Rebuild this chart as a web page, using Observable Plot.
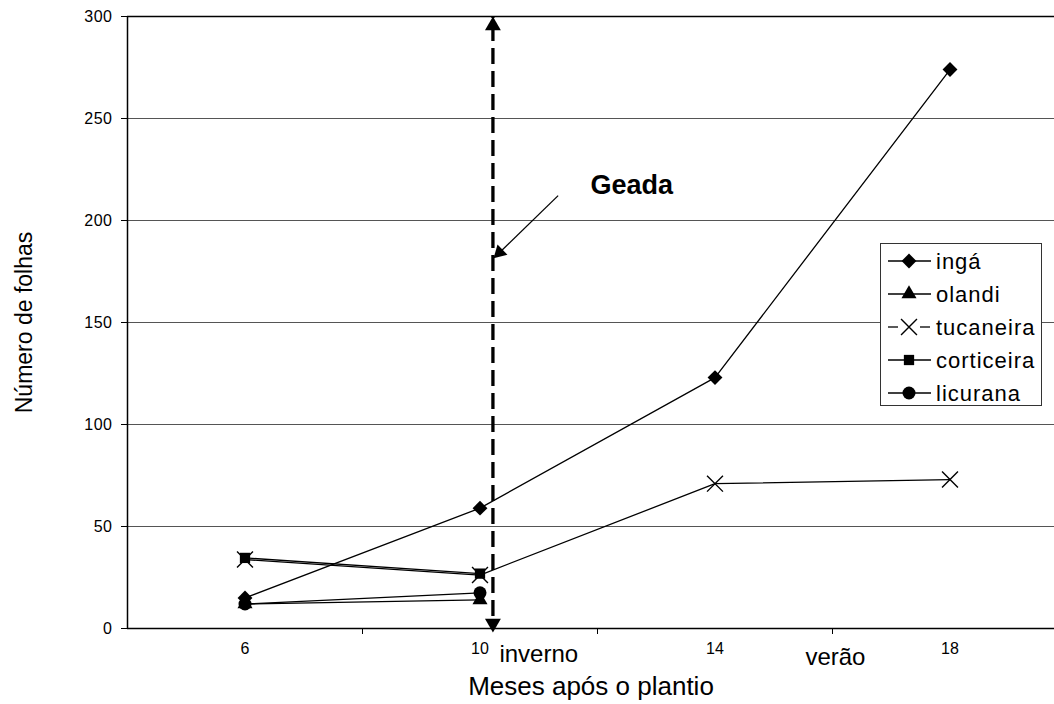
<!DOCTYPE html>
<html>
<head>
<meta charset="utf-8">
<script src="https://cdn.jsdelivr.net/npm/d3@7"></script>
<script src="https://cdn.jsdelivr.net/npm/@observablehq/plot@0.6"></script>
<style>
  body { margin: 0; background: #fff; }
  #wrap { position: relative; width: 1054px; height: 704px; font-family: "Liberation Sans", Arial, sans-serif; }
  g[aria-label="y-axis tick label"] text { letter-spacing: 0.5px; }
  g[aria-label="x-title"] text { letter-spacing: 1.5px; }
  g[aria-label="y-title"] text { letter-spacing: 1px; }
  g[aria-label="geada"] text { letter-spacing: 3px; }
  #legend { position: absolute; left: 880px; top: 243px; width: 160px; height: 161px; border: 1px solid #333; background: #fff; }
  #legend svg { position: absolute; left: 0; top: 0; }
</style>
</head>
<body>
<div id="wrap"><div id="legend"></div></div>
<script>
// ---- data ----
const months = [6, 10, 14, 18];
const inga = [15, 59, 123, 274];
const olandi = [12, 14];
const tucaneira = [33.8, 26.2, 71, 73];
const corticeira = [34.6, 26.9];
const licurana = [12, 17.5];
const yTicks = [0, 50, 100, 150, 200, 250, 300];
const xTickMarks = [8, 12, 16];
const seasonLabels = ["inverno", "verão"];
const seasonX = [11, 16.05];
const geadaX = 10.22;          // month where the frost happened
const geadaLabel = {x: 12.55, y: 213, text: "Geada"};
const geadaArrow = {x1: 11.33, y1: 212.2, x2: 10.33, y2: 184.2, tipX: 10.23, tipY: 181.4};

const seriesNames = ["ingá", "olandi", "tucaneira", "corticeira", "licurana"];
const seriesValues = [inga, olandi, tucaneira, corticeira, licurana];
const seriesSymbols = ["diamond2", "triangle", "times", "square", "circle"];
const seriesR = [6.7, 5.6, 7.3, 5.8, 6.5];

const rows = seriesNames.flatMap((name, i) =>
  seriesValues[i].map((v, j) => ({name, month: months[j], value: v})));

const font = "'Liberation Sans', Arial, sans-serif";

const marks = [
  Plot.gridY(yTicks.filter(d => d > 0 && d < 300), {stroke: "#555", strokeOpacity: 1, strokeWidth: 1}),
  Plot.ruleY([300], {stroke: "#000", strokeWidth: 1.5}),
  Plot.axisY({ticks: yTicks, tickSize: 6, tickPadding: 9, fontSize: 16, label: null, stroke: "#000"}),
  Plot.axisX({ticks: xTickMarks, tickSize: 6, tickFormat: () => "", label: null}),
  Plot.text(months, {x: d => d, frameAnchor: "bottom", dy: 25, text: d => String(d), fontSize: 16}),
  Plot.text([seasonLabels[0]], {x: seasonX[0], frameAnchor: "bottom", dy: 33, text: d => d, fontSize: 24}),
  Plot.text([seasonLabels[1]], {x: seasonX[1], frameAnchor: "bottom", dy: 36, text: d => d, fontSize: 24}),
  Plot.text(["Meses após o plantio"], {frameAnchor: "bottom", textAnchor: "middle", dy: 66, text: d => d, fontSize: 26, ariaLabel: "x-title"}),
  Plot.text(["Número de folhas"], {frameAnchor: "left", textAnchor: "middle", dx: -103, rotate: -90, text: d => d, fontSize: 23, ariaLabel: "y-title"})
];

seriesNames.forEach((name, i) => {
  const data = rows.filter(r => r.name === name);
  marks.push(Plot.line(data, {x: "month", y: "value", stroke: "#000", strokeWidth: 1.3}));
});
seriesNames.forEach((name, i) => {
  const data = rows.filter(r => r.name === name);
  const stroked = seriesSymbols[i] === "times";
  marks.push(Plot.dot(data, {
    x: "month", y: "value", symbol: () => seriesSymbols[i], r: seriesR[i],
    fill: stroked ? "none" : "#000", stroke: stroked ? "#000" : "none", strokeWidth: 1.4
  }));
});

marks.push(
  Plot.ruleY([0], {stroke: "#000", strokeWidth: 1.5}),
  Plot.ruleX([4], {stroke: "#000", strokeWidth: 1.5}),
  // frost line
  Plot.ruleX([geadaX], {y1: 0, y2: 300, stroke: "#000", strokeWidth: 3.3, strokeDasharray: "16,7", strokeDashoffset: -12}),
  Plot.dot([geadaX], {x: d => d, y: 300, symbol: "triangle", r: 5.9, fill: "#000", dy: 9.2}),
  Plot.dot([geadaX], {x: d => d, y: 0, symbol: "triangle", r: 5.9, fill: "#000", rotate: 180, dy: -5.2}),
  Plot.link([geadaArrow], {x1: "x1", y1: "y1", x2: "x2", y2: "y2", stroke: "#000", strokeWidth: 1.3}),
  Plot.dot([geadaArrow], {x: "tipX", y: "tipY", symbol: "triangle", r: 5.3, fill: "#000", rotate: 226, dx: 6, dy: -6}),
  Plot.text([geadaLabel], {x: "x", y: "y", text: "text", fontSize: 27, fontWeight: "bold", lineAnchor: "bottom", dx: 2, ariaLabel: "geada"})
);

const chart = Plot.plot({
  width: 1054, height: 704,
  marginLeft: 127, marginRight: 0, marginTop: 16, marginBottom: 76,
  x: {domain: [4, 4 + 927 / 58.75]},
  y: {domain: [0, 300]},
  style: {fontFamily: font, background: "#fff", color: "#000", overflow: "visible"},
  marks
});
document.getElementById("wrap").prepend(chart);

// ---- legend ----
const lg = d3.select("#legend").append("svg").attr("width", 160).attr("height", 161);
const symMap = {diamond2: d3.symbolDiamond2, triangle: d3.symbolTriangle, times: d3.symbolTimes, square: d3.symbolSquare, circle: d3.symbolCircle};
seriesNames.forEach((name, i) => {
  const cy = 17 + i * 33;
  const g = lg.append("g").attr("transform", `translate(0,${cy})`);
  const stroked = seriesSymbols[i] === "times";
  if (stroked) {
    g.append("line").attr("x1", 7).attr("x2", 17).attr("y1", 0).attr("y2", 0).attr("stroke", "#000").attr("stroke-width", 1.3);
    g.append("line").attr("x1", 39).attr("x2", 49).attr("y1", 0).attr("y2", 0).attr("stroke", "#000").attr("stroke-width", 1.3);
  } else {
    g.append("line").attr("x1", 7).attr("x2", 50).attr("y1", 0).attr("y2", 0).attr("stroke", "#000").attr("stroke-width", 1.3);
  }
  const p = g.append("path").attr("transform", "translate(28,0)")
    .attr("d", d3.symbol(symMap[seriesSymbols[i]], Math.PI * seriesR[i] * seriesR[i])());
  if (stroked) { p.attr("fill", "none").attr("stroke", "#000").attr("stroke-width", 1.4); }
  else { p.attr("fill", "#000"); }
  g.append("text").attr("x", 55).attr("y", 0).attr("dy", "0.35em")
    .attr("font-size", 22).attr("letter-spacing", "1px").attr("font-family", font).text(name);
});
</script>
</body>
</html>
